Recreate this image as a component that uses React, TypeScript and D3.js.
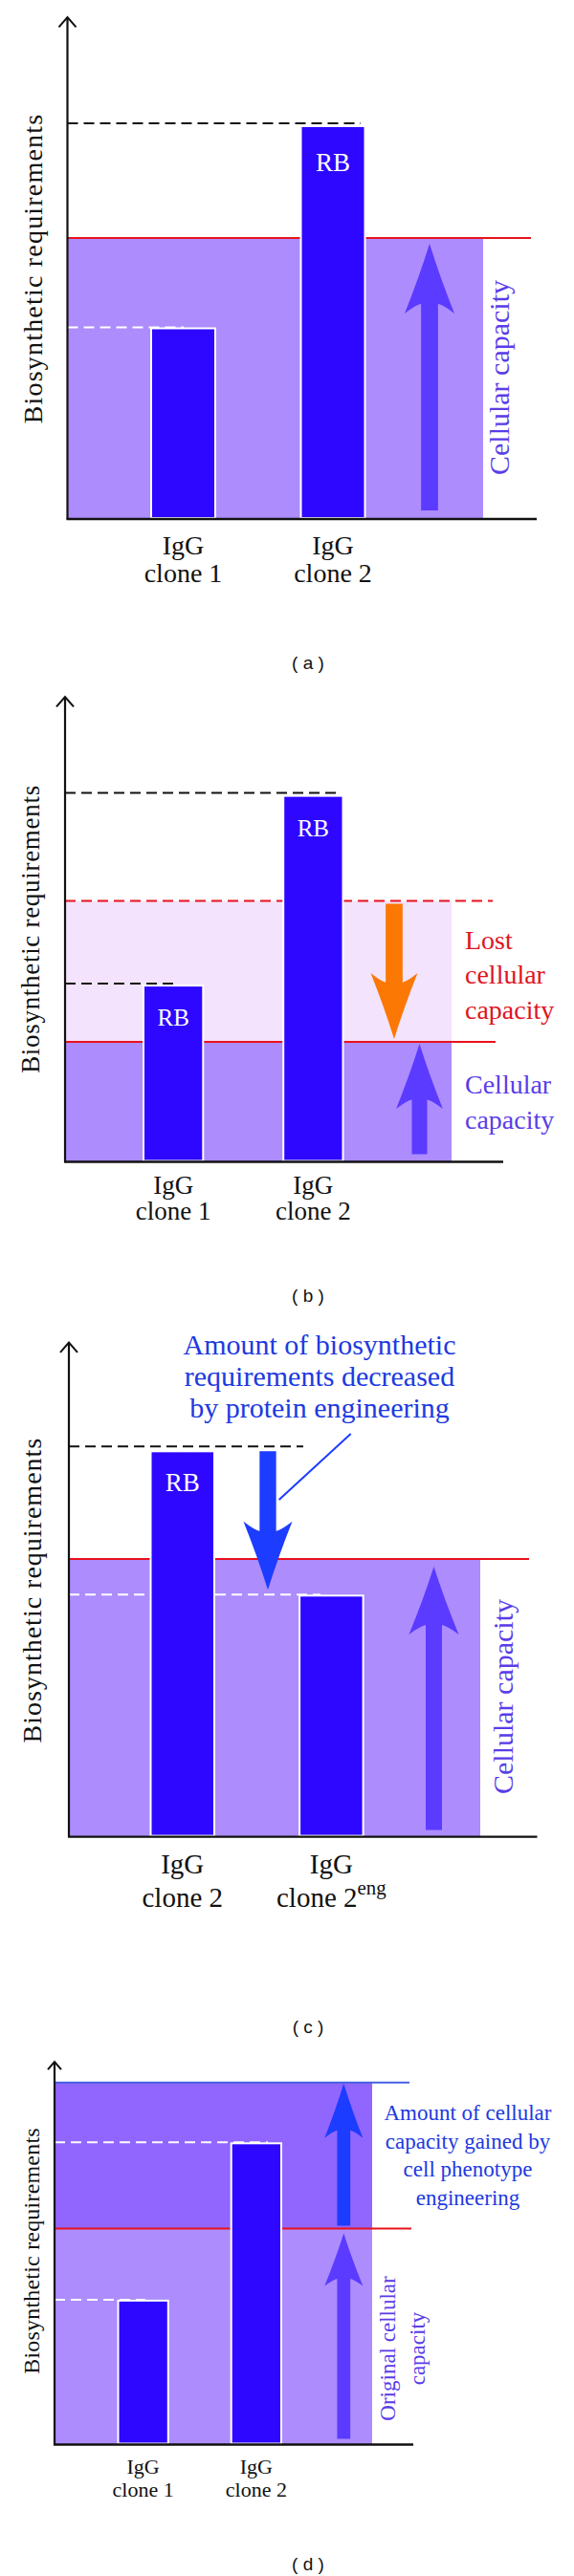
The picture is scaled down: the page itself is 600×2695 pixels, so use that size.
import React from "react";
import * as d3 from "d3";

// ---------------- data (0..100 arbitrary units) ----------------
const Y_MAX = 100;

const catsA = ["clone 1", "clone 2"];
const valuesA = [38, 78.3];
const capacityA = 56;

const catsB = ["clone 1", "clone 2"];
const valuesB = [37.9, 78.7];
const capacityB = 56.1;
const reducedCapacityB = 25.8;

const catsC = ["clone 2", "clone 2eng"];
const valuesC = [78, 48.8];
const capacityC = 56.2;

const catsD = ["clone 1", "clone 2"];
const valuesD = [37.6, 78.7];
const capacityD = 56.4;
const enhancedCapacityD = 94.6;

const labelsAB = [["IgG", "clone 1"], ["IgG", "clone 2"]];
const labelsC = [["IgG", "clone 2", ""], ["IgG", "clone 2", "eng"]];
const captions = ["( a )", "( b )", "( c )", "( d )"];
const noteC = ["Amount of biosynthetic", "requirements decreased", "by protein engineering"];
const noteD = ["Amount of cellular", "capacity gained by", "cell phenotype", "engineering"];
const lostText = ["Lost", "cellular", "capacity"];
const cellText = ["Cellular", "capacity"];
const origText = ["Original cellular", "capacity"];

// ---------------- styles ----------------
const SERIF = "'Liberation Serif', 'Times New Roman', serif";
const SANS = "'Liberation Sans', Arial, sans-serif";
const BAR = "#2d07ff";
const REGION = "#ad8cfd";
const REGION_DARK = "#9066ff";
const PINK = "#f4e3fc";
const RED = "#e8121c";
const ARROW_PURPLE = "#5b3bff";
const ARROW_BLUE = "#1c3cff";
const ORANGE = "#fb7805";
const TEXT_VIOLET = "#5a3de8";
const TEXT_BLUE = "#2039e0";
const TEXT_RED = "#e0141e";
const DASH = "11 6";

function bandScale(domain: string[], r0: number, r1: number, bw: number) {
  const step = (r1 - r0 - bw) / (domain.length - 1);
  return d3.scaleBand<string>().domain(domain).range([r0, r1]).paddingInner(1 - bw / step).paddingOuter(0);
}

function arrowPath(cx: number, tail: number, tip: number, shaftW: number, headW: number, headLen: number) {
  const dir = tip < tail ? -1 : 1;
  const barbY = tip - dir * headLen;
  const joinY = barbY + dir * headLen * 0.14;
  const hw = headW / 2;
  const sw = shaftW / 2;
  const p = d3.path();
  p.moveTo(cx, tip);
  p.quadraticCurveTo(cx - hw * 0.42, (tip + barbY) / 2 + dir * headLen * 0.02, cx - hw, barbY);
  p.quadraticCurveTo(cx - sw - (hw - sw) * 0.35, joinY - dir * headLen * 0.02, cx - sw, joinY);
  p.lineTo(cx - sw, tail);
  p.lineTo(cx + sw, tail);
  p.lineTo(cx + sw, joinY);
  p.quadraticCurveTo(cx + sw + (hw - sw) * 0.35, joinY - dir * headLen * 0.02, cx + hw, barbY);
  p.quadraticCurveTo(cx + hw * 0.42, (tip + barbY) / 2 + dir * headLen * 0.02, cx, tip);
  p.closePath();
  return p.toString();
}

function Axes({ x0, top, bottom, right, chev }: { x0: number; top: number; bottom: number; right: number; chev: number }) {
  return (
    <g stroke="#111" fill="none">
      <line x1={x0} y1={top} x2={x0} y2={bottom} strokeWidth={2.2} />
      <line x1={x0 - 1} y1={bottom} x2={right} y2={bottom} strokeWidth={2.4} />
      <path d={`M${x0 - chev},${top + chev * 1.15}L${x0},${top}L${x0 + chev},${top + chev * 1.15}`} strokeWidth={2} />
    </g>
  );
}

function YLabel({ x, y, size, spacing }: { x: number; y: number; size: number; spacing: number }) {
  return (
    <text transform={`translate(${x},${y}) rotate(-90)`} textAnchor="middle" fontFamily={SERIF} fontSize={size} letterSpacing={spacing} fill="#111">
      Biosynthetic requirements
    </text>
  );
}

function Bars({ x, y, cats, values }: { x: d3.ScaleBand<string>; y: d3.ScaleLinear<number, number>; cats: string[]; values: number[] }) {
  return (
    <g>
      {cats.map((c, i) => (
        <rect key={c} x={x(c)} y={y(values[i])} width={x.bandwidth()} height={y(0) - y(values[i]) - 1} fill={BAR} stroke="#fff" strokeWidth={2} />
      ))}
    </g>
  );
}

function XLabels({ x, cats, labels, y1, y2, size }: { x: d3.ScaleBand<string>; cats: string[]; labels: string[][]; y1: number; y2: number; size: number }) {
  return (
    <g fontFamily={SERIF} fontSize={size} fill="#111" textAnchor="middle">
      {cats.map((c, i) => {
        const cx = (x(c) as number) + x.bandwidth() / 2;
        return (
          <g key={c}>
            <text x={cx} y={y1}>{labels[i][0]}</text>
            <text x={cx} y={y2}>
              {labels[i][1]}
              {labels[i][2] ? (
                <tspan fontSize={size * 0.72} dy={-13}>{labels[i][2]}</tspan>
              ) : null}
            </text>
          </g>
        );
      })}
    </g>
  );
}

function Caption({ y, text }: { y: number; text: string }) {
  return (
    <text x={322} y={y} textAnchor="middle" fontFamily={SANS} fontSize={19} fill="#111">
      {text}
    </text>
  );
}

export default function App() {
  // ---------- panel (a) ----------
  const axA = { x0: 70.5, top: 18, bottom: 543, right: 561 };
  const yA = d3.scaleLinear().domain([0, Y_MAX]).range([axA.bottom, axA.top]);
  const xA = bandScale(catsA, 158, 381.5, 67);

  // ---------- panel (b) ----------
  const axB = { x0: 68, top: 729, bottom: 1215.5, right: 526 };
  const yB = d3.scaleLinear().domain([0, Y_MAX]).range([axB.bottom, axB.top]);
  const xB = bandScale(catsB, 150, 358.5, 62.3);

  // ---------- panel (c) ----------
  const axC = { x0: 72, top: 1404.6, bottom: 1921.6, right: 561.5 };
  const yC = d3.scaleLinear().domain([0, Y_MAX]).range([axC.bottom, axC.top]);
  const xC = bandScale(catsC, 157.5, 379.6, 66.5);

  // ---------- panel (d) ----------
  const axD = { x0: 57, top: 2157, bottom: 2557.5, right: 432 };
  const yD = d3.scaleLinear().domain([0, Y_MAX]).range([axD.bottom, axD.top]);
  const xD = bandScale(catsD, 123.5, 294, 52.3);

  const bandCenter = (x: d3.ScaleBand<string>, c: string) => (x(c) as number) + x.bandwidth() / 2;

  return (
    <svg width={600} height={2695} viewBox="0 0 600 2695" style={{ position: "absolute", left: 0, top: 0, background: "#fff" }}>
      <rect x={0} y={0} width={600} height={2695} fill="#fff" />

      {/* ================= (a) ================= */}
      <g>
        <rect x={axA.x0} y={yA(capacityA)} width={505 - axA.x0} height={yA(0) - yA(capacityA)} fill={REGION} />
        <line x1={axA.x0} x2={555} y1={yA(capacityA)} y2={yA(capacityA)} stroke={RED} strokeWidth={2} />
        <line x1={axA.x0} x2={377} y1={yA(valuesA[1]) - 3} y2={yA(valuesA[1]) - 3} stroke="#111" strokeWidth={2} strokeDasharray={DASH} />
        <line x1={axA.x0} x2={192} y1={yA(valuesA[0]) - 1} y2={yA(valuesA[0]) - 1} stroke="#fff" strokeWidth={2} strokeDasharray={DASH} />
        <Bars x={xA} y={yA} cats={catsA} values={valuesA} />
        <text x={bandCenter(xA, catsA[1])} y={yA(valuesA[1]) + 47} textAnchor="middle" fontFamily={SERIF} fontSize={27} fill="#fff">RB</text>
        <path d={arrowPath(449, axA.bottom - 9, yA(capacityA) + 6, 17.7, 52, 73)} fill={ARROW_PURPLE} />
        <text transform={`translate(531.5,${yA(0) - 148}) rotate(-90)`} textAnchor="middle" fontFamily={SERIF} fontSize={30} fill={TEXT_VIOLET}>
          Cellular capacity
        </text>
        <Axes {...axA} chev={9} />
        <YLabel x={44} y={281} size={28} spacing={1.2} />
        <XLabels x={xA} cats={catsA} labels={labelsAB} y1={580} y2={609} size={28} />
        <Caption y={700} text={captions[0]} />
      </g>

      {/* ================= (b) ================= */}
      <g>
        <rect x={axB.x0} y={yB(capacityB)} width={472 - axB.x0} height={yB(reducedCapacityB) - yB(capacityB)} fill={PINK} />
        <rect x={axB.x0} y={yB(reducedCapacityB)} width={472 - axB.x0} height={yB(0) - yB(reducedCapacityB)} fill={REGION} />
        <line x1={axB.x0} x2={515} y1={yB(capacityB)} y2={yB(capacityB)} stroke={RED} strokeWidth={2} strokeDasharray={DASH} />
        <line x1={axB.x0} x2={518} y1={yB(reducedCapacityB)} y2={yB(reducedCapacityB)} stroke={RED} strokeWidth={2} />
        <line x1={axB.x0} x2={354} y1={yB(valuesB[1]) - 3} y2={yB(valuesB[1]) - 3} stroke="#111" strokeWidth={2} strokeDasharray={DASH} />
        <line x1={axB.x0} x2={185} y1={yB(valuesB[0]) - 2} y2={yB(valuesB[0]) - 2} stroke="#111" strokeWidth={2} strokeDasharray={DASH} />
        <Bars x={xB} y={yB} cats={catsB} values={valuesB} />
        {catsB.map((c, i) => (
          <text key={c} x={bandCenter(xB, c)} y={yB(valuesB[i]) + 42} textAnchor="middle" fontFamily={SERIF} fontSize={25} fill="#fff">RB</text>
        ))}
        <path d={arrowPath(412, yB(capacityB) + 3, yB(reducedCapacityB) - 3, 17.7, 49, 69)} fill={ORANGE} />
        <path d={arrowPath(438.5, axB.bottom - 8, yB(reducedCapacityB) + 2, 16, 48.7, 68)} fill={ARROW_PURPLE} />
        <g fontFamily={SERIF} fontSize={28}>
          {lostText.map((t, i) => (
            <text key={t} x={486} y={992.7 + i * 36.6} fill={TEXT_RED}>{t}</text>
          ))}
          {cellText.map((t, i) => (
            <text key={t} x={486} y={1144 + i * 36.7} fill={TEXT_VIOLET}>{t}</text>
          ))}
        </g>
        <Axes {...axB} chev={9} />
        <YLabel x={41} y={972} size={27} spacing={0.7} />
        <XLabels x={xB} cats={catsB} labels={labelsAB} y1={1249} y2={1276} size={27} />
        <Caption y={1362} text={captions[1]} />
      </g>

      {/* ================= (c) ================= */}
      <g>
        <rect x={axC.x0} y={yC(capacityC)} width={502 - axC.x0} height={yC(0) - yC(capacityC)} fill={REGION} />
        <line x1={axC.x0} x2={553} y1={yC(capacityC)} y2={yC(capacityC)} stroke={RED} strokeWidth={2} />
        <line x1={axC.x0} x2={317} y1={yC(valuesC[0]) - 5} y2={yC(valuesC[0]) - 5} stroke="#111" strokeWidth={2} strokeDasharray={DASH} />
        <line x1={axC.x0} x2={335} y1={yC(valuesC[1]) - 1} y2={yC(valuesC[1]) - 1} stroke="#fff" strokeWidth={2} strokeDasharray={DASH} />
        <Bars x={xC} y={yC} cats={catsC} values={valuesC} />
        <text x={bandCenter(xC, catsC[0])} y={yC(valuesC[0]) + 42} textAnchor="middle" fontFamily={SERIF} fontSize={27} fill="#fff">RB</text>
        <path d={arrowPath(280, yC(valuesC[0]), yC(valuesC[1]) - 6, 17.3, 51, 71.5)} fill={ARROW_BLUE} />
        <line x1={366.7} y1={1500} x2={291.7} y2={1569} stroke={ARROW_BLUE} strokeWidth={2} />
        <path d={arrowPath(453.5, axC.bottom - 7, yC(capacityC) + 8, 17, 52, 71)} fill={ARROW_PURPLE} />
        <text transform={`translate(535.5,1775) rotate(-90)`} textAnchor="middle" fontFamily={SERIF} fontSize={30} fill={TEXT_VIOLET}>
          Cellular capacity
        </text>
        <g fontFamily={SERIF} fontSize={30} fill={TEXT_BLUE} textAnchor="middle">
          {noteC.map((t, i) => (
            <text key={t} x={334} y={1416.7 + i * 33}>{t}</text>
          ))}
        </g>
        <Axes {...axC} chev={9} />
        <YLabel x={43} y={1663.6} size={28} spacing={1} />
        <XLabels x={xC} cats={catsC} labels={labelsC} y1={1960} y2={1995} size={29} />
        <Caption y={2127} text={captions[2]} />
      </g>

      {/* ================= (d) ================= */}
      <g>
        <rect x={axD.x0} y={yD(enhancedCapacityD)} width={389 - axD.x0} height={yD(capacityD) - yD(enhancedCapacityD)} fill={REGION_DARK} />
        <rect x={axD.x0} y={yD(capacityD)} width={389 - axD.x0} height={yD(0) - yD(capacityD)} fill={REGION} />
        <line x1={axD.x0} x2={428} y1={yD(enhancedCapacityD)} y2={yD(enhancedCapacityD)} stroke="#4460e0" strokeWidth={2} />
        <line x1={axD.x0} x2={430} y1={yD(capacityD)} y2={yD(capacityD)} stroke={RED} strokeWidth={2} />
        <line x1={axD.x0} x2={280} y1={yD(valuesD[1]) - 1} y2={yD(valuesD[1]) - 1} stroke="#fff" strokeWidth={2} strokeDasharray={DASH} />
        <line x1={axD.x0} x2={152} y1={yD(valuesD[0]) - 1} y2={yD(valuesD[0]) - 1} stroke="#fff" strokeWidth={2} strokeDasharray={DASH} />
        <Bars x={xD} y={yD} cats={catsD} values={valuesD} />
        <path d={arrowPath(359.3, yD(capacityD) - 3, yD(enhancedCapacityD) + 1, 13.7, 40, 57)} fill={ARROW_BLUE} />
        <path d={arrowPath(359.3, axD.bottom - 6, yD(capacityD) + 5, 13.7, 40, 55)} fill={ARROW_PURPLE} />
        <g fontFamily={SERIF} fontSize={23} fill={TEXT_BLUE} textAnchor="middle">
          {noteD.map((t, i) => (
            <text key={t} x={489} y={2218.3 + i * 29.5}>{t}</text>
          ))}
        </g>
        <g fontFamily={SERIF} fontSize={23} fill={TEXT_VIOLET} textAnchor="middle">
          {origText.map((t, i) => (
            <text key={t} transform={`translate(${412.7 + i * 31.3},2457) rotate(-90)`}>{t}</text>
          ))}
        </g>
        <Axes {...axD} chev={7} />
        <YLabel x={40.5} y={2355} size={24} spacing={0.2} />
        <XLabels x={xD} cats={catsD} labels={labelsAB} y1={2588} y2={2611.6} size={22} />
        <Caption y={2689} text={captions[3]} />
      </g>
    </svg>
  );
}
